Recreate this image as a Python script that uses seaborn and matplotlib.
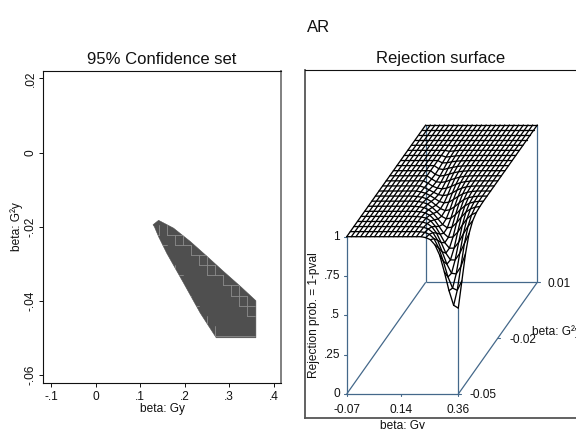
import numpy as np
import pandas as pd
import matplotlib
matplotlib.use("Agg")
import matplotlib.pyplot as plt
import seaborn as sns

# confidence set outline (beta Gy, beta G2y)
set_x = [0.129, 0.1415, 0.175, 0.2126, 0.25, 0.2874, 0.325, 0.36, 0.36, 0.271, 0.235, 0.1976, 0.16, 0.1415, 0.132]
set_y = [-0.0195, -0.0183, -0.0204, -0.024, -0.028, -0.0321, -0.0361, -0.04, -0.05, -0.05, -0.0433, -0.0352, -0.0272, -0.0227, -0.02]

# grid the test was run on
grid_x = np.linspace(-0.07, 0.36, 25)
grid_y = np.linspace(-0.05, 0.01, 23)

# light cell edges showing through the set, as grid indices
cell_vert = [(13, 10, 11), (14, 9, 10), (15, 9, 10), (16, 8, 9), (17, 7, 8), (18, 6, 8), (19, 6, 7),
             (20, 5, 6), (21, 4, 5), (22, 3, 5), (23, 2, 4), (12, 10, 11), (14, 6, 7), (16, 3, 4),
             (18, 1, 2), (19, 0, 1)]
cell_horz = [(10, 13, 15), (9, 14, 16), (8, 16, 18), (7, 17, 19), (6, 18, 20), (5, 20, 22), (4, 21, 23),
             (3, 22, 24), (2, 23, 24), (10, 11, 12), (9, 12, 13), (6, 14, 15), (3, 16, 17), (0, 19, 24)]

# rejection prob. below 1, by grid column: first grid row, then values going up the rows
dip_cols = [9, 10, 11, 12, 13, 14, 15, 16, 17, 18, 19, 20, 21, 22, 23, 24]
dip_start = [8, 6, 5, 4, 3, 2, 1, 1, 0, 0, 0, 0, 0, 0, 0, 0]
dip_vals = [
    [.997, .994, .99, .985, .98, .977, .98, .985, .99, .994, .997],
    [.999, .998, .993, .986, .975, .966, .962, .966, .975, .986, .993, .997],
    [.999, .997, .992, .983, .971, .959, .954, .958, .97, .983, .992, .997],
    [.999, .997, .991, .981, .966, .952, .945, .949, .962, .978, .989, .996, .999],
    [.999, .996, .99, .978, .96, .942, .933, .939, .954, .973, .987, .995, .998],
    [.999, .996, .989, .975, .954, .932, .92, .925, .943, .965, .983, .993, .998, .999],
    [.999, .995, .987, .971, .946, .919, .904, .908, .929, .956, .978, .991, .997, .999],
    [.995, .985, .966, .936, .904, .884, .888, .913, .946, .973, .989, .996, .999],
    [.994, .983, .961, .926, .887, .861, .863, .892, .932, .965, .986, .995, .999],
    [.981, .955, .913, .866, .833, .834, .867, .915, .956, .982, .994, .998],
    [.947, .897, .839, .799, .798, .837, .895, .945, .977, .992, .998],
    [.882, .812, .761, .756, .798, .867, .93, .97, .99, .997],
    [.776, .712, .703, .755, .836, .912, .962, .987, .996],
    [.657, .641, .699, .798, .889, .952, .983, .995, .999],
    [.564, .627, .745, .86, .937, .978, .994, .999],
    [.546, .687, .826, .923, .972, .992, .998],
]

left_xticks = [-0.1, 0, 0.1, 0.2, 0.3, 0.4]
left_xlabels = ["-.1", "0", ".1", ".2", ".3", ".4"]
left_yticks = [-0.06, -0.04, -0.02, 0, 0.02]
left_ylabels = ["-.06", "-.04", "-.02", "0", ".02"]
z_ticks = [0, 0.25, 0.5, 0.75, 1]
z_labels = ["0", ".25", ".5", ".75", "1"]
surf_xlabels = ["-0.07", "0.14", "0.36"]
surf_ylabels = ["-0.05", "-0.02", "0.01"]

W, H = 576, 429
BLUE = "#44688a"
FS = 8.6

sns.set_style("white")
plt.rcParams["font.family"] = ["Liberation Sans", "DejaVu Sans"]

fig = plt.figure(figsize=(W / 100, H / 100), dpi=100)


def put(x, y, s, **kw):
    # text placed in picture pixels
    kw.setdefault("fontsize", FS)
    kw.setdefault("ha", "center")
    kw.setdefault("va", "center")
    return fig.text(x / W, 1 - y / H, s, color="#111111", **kw)


def proj(x, y, z):
    # oblique view of the surface box, in picture pixels
    u = (np.asarray(x) + 0.07) / 0.43
    v = (np.asarray(y) + 0.05) / 0.06
    return 346.7 + 111.6 * u + 79 * v, 394 - 157.3 * np.asarray(z) - 111.7 * v


put(318.5, 27, "AR", fontsize=12)
put(162, 59, "95% Confidence set", fontsize=12)
put(441, 59, "Rejection surface", fontsize=12)

# left panel
ax = fig.add_axes([43 / W, 1 - 383 / H, 238 / W, 312 / H])
ax.set_xlim(-0.118, 0.4164)
ax.set_ylim(-0.0622, 0.022)
region = ax.fill(set_x, set_y, color="#4f4f4f", lw=0.4)[0]

# cell edges sit a touch up and left of the grid in the original
cell_x = grid_x - 0.003
cell_y = grid_y + 0.0005
edges = []
for i, j0, j1 in cell_vert:
    edges.append(pd.DataFrame({"x": cell_x[i], "y": cell_y[[j0, j1]], "seg": f"v{i}{j0}"}))
for j, i0, i1 in cell_horz:
    edges.append(pd.DataFrame({"x": cell_x[[i0, i1]], "y": cell_y[j], "seg": f"h{j}{i0}"}))
before = len(ax.lines)
sns.lineplot(data=pd.concat(edges), x="x", y="y", units="seg", estimator=None, sort=False,
             color="#8c8c8c", lw=0.6, legend=False, ax=ax)
for line in ax.lines[before:]:
    line.set_clip_path(region)

ax.set_xticks(left_xticks, left_xlabels, fontsize=FS)
ax.set_yticks(left_yticks, left_ylabels, fontsize=FS, rotation=90, va="center")
ax.set_xlabel("")
ax.set_ylabel("")
ax.tick_params(axis="both", left=True, bottom=True, length=3, width=0.7, color="#111111", labelcolor="#111111")
ax.tick_params(axis="x", pad=3)
ax.tick_params(axis="y", pad=1.5)
for name in ["left", "bottom", "top"]:
    ax.spines[name].set_color("#111111")
    ax.spines[name].set_linewidth(0.8)
ax.spines["right"].set_color("#808080")
ax.spines["right"].set_linewidth(1.4)
put(162, 409, "beta: Gy")
put(16.5, 227, "beta: G²y", rotation=90)

# right panel
bx = fig.add_axes([305 / W, 1 - 417.7 / H, 272 / W, 347.7 / H])
bx.set_xlim(305, 577)
bx.set_ylim(417.7, 70)
bx.set_xticks([])
bx.set_yticks([])
bx.spines["right"].set_visible(False)
bx.spines["top"].set_color("#111111")
bx.spines["top"].set_linewidth(0.8)
for name in ["left", "bottom"]:
    bx.spines[name].set_color("#555555")
    bx.spines[name].set_linewidth(1.3)

xa, xb, ya, yb = -0.07, 0.36, -0.05, 0.01
box = [((xa, ya, 0), (xb, ya, 0)), ((xa, yb, 0), (xb, yb, 0)), ((xa, ya, 0), (xa, yb, 0)), ((xb, ya, 0), (xb, yb, 0)),
       ((xa, ya, 0), (xa, ya, 1)), ((xb, ya, 0), (xb, ya, dip_vals[-1][0])), ((xa, yb, 0), (xa, yb, 1)), ((xb, yb, 0), (xb, yb, 1))]
for p, q in box:
    sx, sy = proj([p[0], q[0]], [p[1], q[1]], [p[2], q[2]])
    bx.plot(sx, sy, color=BLUE, lw=0.9, solid_capstyle="butt")

# axis ticks on the box
for t, lab in zip(z_ticks, z_labels):
    sx, sy = proj(xa, ya, t)
    bx.plot([sx - 3, sx], [sy, sy], color=BLUE, lw=0.8)
    put(340, sy, lab, ha="right")
for t, lab, cx in zip([xa, 0.14, xb], surf_xlabels, [347, 401, 458]):
    sx, sy = proj(t, ya, 0)
    bx.plot([sx, sx], [sy, sy + 2.5], color=BLUE, lw=0.8)
    put(cx, 410, lab)
for t, lab, lx, ly in zip([ya, -0.02, yb], surf_ylabels, [470, 509, 548], [395, 340, 284]):
    sx, sy = proj(xb, t, 0)
    bx.plot([sx, sx + 2.5], [sy, sy], color=BLUE, lw=0.8)
    put(lx, ly, lab, ha="left")

put(313.5, 315, "Rejection prob. = 1-pval", rotation=90)
put(402, 429, "beta: Gy", va="baseline")
put(532, 332, "beta: G²y", ha="left")

# wireframe
zz = np.ones((len(grid_y), len(grid_x)))
for col, start, vals in zip(dip_cols, dip_start, dip_vals):
    zz[start:start + len(vals), col] = vals

wires = []
for j, gy in enumerate(grid_y):
    sx, sy = proj(grid_x, gy, zz[j, :])
    wires.append(pd.DataFrame({"sx": sx, "sy": sy, "wire": f"r{j}"}))
for i, gx in enumerate(grid_x):
    sx, sy = proj(gx, grid_y, zz[:, i])
    wires.append(pd.DataFrame({"sx": sx, "sy": sy, "wire": f"c{i}"}))
sns.lineplot(data=pd.concat(wires), x="sx", y="sy", units="wire", estimator=None, sort=False,
             color="black", lw=0.95, legend=False, ax=bx)
bx.set_xlabel("")
bx.set_ylabel("")

fig.savefig("out.png", dpi=100, facecolor="white")
